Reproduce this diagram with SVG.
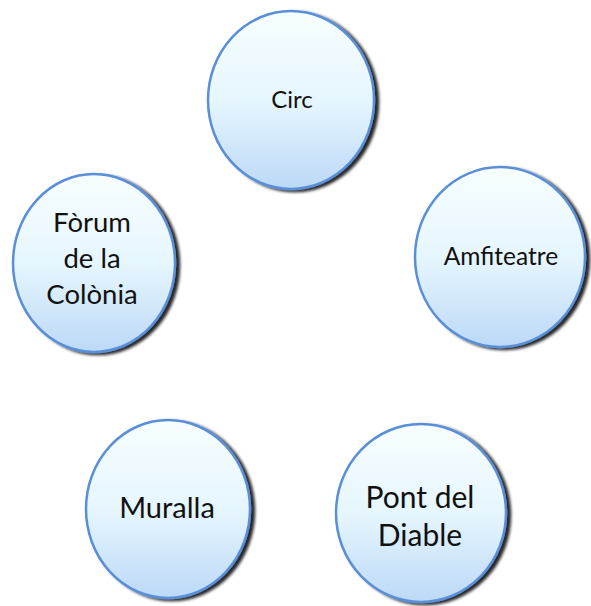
<svg xmlns="http://www.w3.org/2000/svg" width="591" height="606" viewBox="0 0 591 606">
<defs>
<linearGradient id="g" x1="0" y1="0" x2="0" y2="1">
<stop offset="0" stop-color="#f7feff"/>
<stop offset="0.5" stop-color="#e6f6fe"/>
<stop offset="1" stop-color="#bcd9f7"/>
</linearGradient>
<filter id="sh" x="-20%" y="-20%" width="140%" height="140%">
<feGaussianBlur in="SourceAlpha" stdDeviation="1.5"/>
<feOffset dx="4" dy="2" result="o"/>
<feComponentTransfer><feFuncA type="linear" slope="0.85"/></feComponentTransfer>
<feMerge><feMergeNode/><feMergeNode in="SourceGraphic"/></feMerge>
</filter>
</defs>
<style>
.n{fill:url(#g);stroke:#5a8fd8;stroke-width:2.5;filter:url(#sh)}
.t{font-family:Lato,"Open Sans",sans-serif;fill:#111;text-anchor:middle}
</style>
<rect width="591" height="606" fill="#fff"/>
<g id="connectors"/>
<g id="circ"><ellipse class="n" cx="291" cy="100" rx="83" ry="89"/><text class="t" x="292" y="108" font-size="24">Circ</text></g>
<g id="amfiteatre"><ellipse class="n" cx="500" cy="257" rx="85" ry="90"/><text class="t" x="501" y="265" font-size="24.5">Amfiteatre</text></g>
<g id="forum"><ellipse class="n" cx="94" cy="263" rx="81" ry="89"/><text class="t" font-size="27.5"><tspan x="92" y="232">Fòrum</tspan><tspan x="92" y="268">de la</tspan><tspan x="92" y="304">Colònia</tspan></text></g>
<g id="muralla"><ellipse class="n" cx="168" cy="509" rx="82" ry="89"/><text class="t" x="167" y="518" font-size="29">Muralla</text></g>
<g id="pont"><ellipse class="n" cx="421" cy="513" rx="85" ry="89"/><text class="t" font-size="30"><tspan x="420" y="508">Pont del</tspan><tspan x="420" y="546">Diable</tspan></text></g>
</svg>
